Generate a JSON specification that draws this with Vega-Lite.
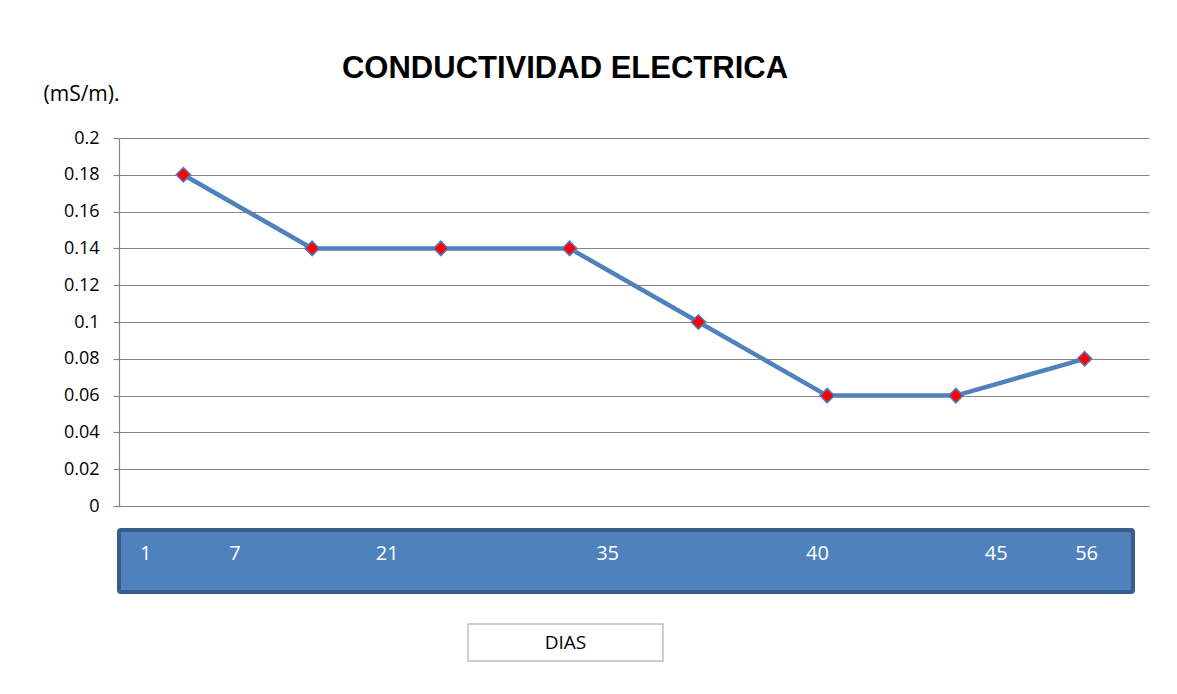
{
  "$schema": "https://vega.github.io/schema/vega-lite/v6.json",
  "background": "white",
  "autosize": {"type": "pad"},
  "padding": {"left": 43, "top": 53, "right": 5, "bottom": 5},
  "config": {"view": {"stroke": null}, "font": "Open Sans"},
  "spacing": 13,
  "vconcat": [
    {
      "width": 1030,
      "height": 368,
      "title": {
        "text": "CONDUCTIVIDAD ELECTRICA",
        "font": "Liberation Sans",
        "fontSize": 31,
        "fontWeight": "bold",
        "color": "#000000",
        "anchor": "middle",
        "frame": "group",
        "baseline": "alphabetic",
        "dx": -69,
        "offset": -26
      },
      "data": {
        "values": [
          {"punto": 1, "ce": 0.18},
          {"punto": 2, "ce": 0.14},
          {"punto": 3, "ce": 0.14},
          {"punto": 4, "ce": 0.14},
          {"punto": 5, "ce": 0.10},
          {"punto": 6, "ce": 0.06},
          {"punto": 7, "ce": 0.06},
          {"punto": 8, "ce": 0.08}
        ]
      },
      "encoding": {
        "x": {
          "field": "punto",
          "type": "ordinal",
          "scale": {"type": "point", "padding": 0.5},
          "axis": {
            "title": null,
            "labels": false,
            "ticks": false,
            "grid": false,
            "domain": true,
            "domainColor": "#868686",
            "domainWidth": 1.2
          }
        },
        "y": {
          "field": "ce",
          "type": "quantitative",
          "scale": {"domain": [0, 0.2], "nice": false, "zero": true},
          "axis": {
            "values": [0, 0.02, 0.04, 0.06, 0.08, 0.1, 0.12, 0.14, 0.16, 0.18, 0.2],
            "format": "~g",
            "title": "(mS/m).",
            "titleAngle": 0,
            "titleAlign": "left",
            "titleBaseline": "middle",
            "titleX": -76,
            "titleY": -44,
            "titleFont": "Open Sans",
            "titleFontSize": 21,
            "titleFontWeight": "normal",
            "titleColor": "#000000",
            "labelFont": "Open Sans",
            "labelFontSize": 18,
            "labelColor": "#000000",
            "labelPadding": 14,
            "tickSize": 6,
            "tickColor": "#868686",
            "tickWidth": 1.2,
            "domainColor": "#868686",
            "domainWidth": 1.2,
            "grid": true,
            "gridColor": "#868686",
            "gridWidth": 1.2
          }
        }
      },
      "layer": [
        {"mark": {"type": "line", "color": "#4F81BD", "strokeWidth": 4.5}},
        {"mark": {"type": "point", "shape": "diamond", "filled": true, "fill": "#FF0000", "stroke": "#4F81BD", "strokeWidth": 1.5, "size": 210, "opacity": 1}}
      ]
    },
    {
      "spacing": 29,
      "vconcat": [
        {
          "width": 1014,
          "height": 62,
          "view": {"fill": "#4F81BD", "stroke": "#385D8A", "strokeWidth": 4, "cornerRadius": 2},
          "data": {"values": [{"dias": "1\u00a0\u00a0\u00a0\u00a0\u00a0\u00a0\u00a0\u00a0\u00a0\u00a0\u00a0\u00a0\u00a0\u00a0\u00a07\u00a0\u00a0\u00a0\u00a0\u00a0\u00a0\u00a0\u00a0\u00a0\u00a0\u00a0\u00a0\u00a0\u00a0\u00a0\u00a0\u00a0\u00a0\u00a0\u00a0\u00a0\u00a0\u00a0\u00a0\u00a0\u00a021\u00a0\u00a0\u00a0\u00a0\u00a0\u00a0\u00a0\u00a0\u00a0\u00a0\u00a0\u00a0\u00a0\u00a0\u00a0\u00a0\u00a0\u00a0\u00a0\u00a0\u00a0\u00a0\u00a0\u00a0\u00a0\u00a0\u00a0\u00a0\u00a0\u00a0\u00a0\u00a0\u00a0\u00a0\u00a0\u00a0\u00a0\u00a035\u00a0\u00a0\u00a0\u00a0\u00a0\u00a0\u00a0\u00a0\u00a0\u00a0\u00a0\u00a0\u00a0\u00a0\u00a0\u00a0\u00a0\u00a0\u00a0\u00a0\u00a0\u00a0\u00a0\u00a0\u00a0\u00a0\u00a0\u00a0\u00a0\u00a0\u00a0\u00a0\u00a0\u00a0\u00a0\u00a040\u00a0\u00a0\u00a0\u00a0\u00a0\u00a0\u00a0\u00a0\u00a0\u00a0\u00a0\u00a0\u00a0\u00a0\u00a0\u00a0\u00a0\u00a0\u00a0\u00a0\u00a0\u00a0\u00a0\u00a0\u00a0\u00a0\u00a0\u00a0\u00a0\u00a045\u00a0\u00a0\u00a0\u00a0\u00a0\u00a0\u00a0\u00a0\u00a0\u00a0\u00a0\u00a0\u00a056"}]},
          "mark": {"type": "text", "font": "Open Sans", "fontSize": 20, "color": "#FFFFFF", "align": "center", "baseline": "middle", "dx": -7, "dy": -7},
          "encoding": {"text": {"field": "dias", "type": "nominal"}}
        },
        {
          "spacing": 0,
          "hconcat": [
            {
              "width": 348,
              "height": 37,
              "data": {"values": []},
              "mark": "point",
              "encoding": {}
            },
            {
              "width": 195,
              "height": 37,
              "view": {"fill": "#FFFFFF", "stroke": "#BFBFBF", "strokeWidth": 1.5},
              "data": {"values": [{"eje": "DIAS"}]},
              "mark": {"type": "text", "font": "Open Sans", "fontSize": 19, "color": "#000000", "align": "center", "baseline": "middle"},
              "encoding": {"text": {"field": "eje", "type": "nominal"}}
            }
          ]
        }
      ]
    }
  ]
}
